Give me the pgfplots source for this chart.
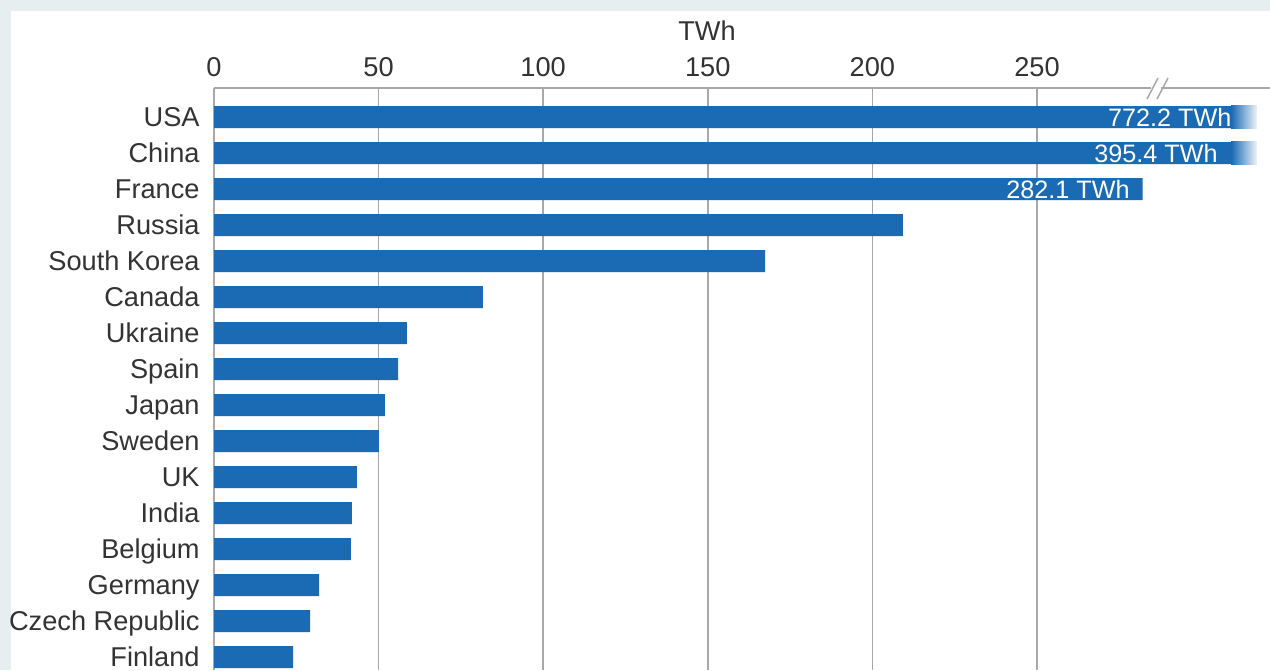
\documentclass[border=0pt]{standalone}
\usepackage{fontspec}
\setmainfont{Liberation Sans}
\usepackage{pgfplots}
\pgfplotsset{compat=1.18}
\definecolor{bg}{HTML}{E7EEF0}
\definecolor{barblue}{HTML}{1A6AB4}
\definecolor{gridgray}{HTML}{A8A8A8}
\definecolor{txt}{HTML}{333333}
\begin{document}
\begin{tikzpicture}
\begin{scope}[x=0.5pt,y=0.5pt]
\fill[bg] (0,0) rectangle (1270,670);
\fill[white] (11,0) rectangle (1280,659);
\end{scope}
\begin{axis}[
  at={(107pt,0pt)}, anchor=south west, scale only axis,
  width=528pt, height=291pt,
  xmin=0, xmax=320.8, ymin=-0.361, ymax=15.806,
  axis x line*=top, axis y line*=left,
  axis line style={draw=gridgray, line width=0.75pt, -},
  xmajorgrids, grid style={draw=gridgray, line width=0.75pt},
  major tick length=0pt,
  xtick={0,50,100,150,200,250},
  ytick={0,...,15},
  yticklabels={Finland, Czech Republic, Germany, Belgium, India, UK, Sweden, Japan, Spain, Ukraine, Canada, South Korea, Russia, France, China, USA},
  /pgf/number format/assume math mode=true,
  tick label style={text=txt, font=\fontsize{13.6}{16}\selectfont},
  xticklabel style={anchor=south, inner sep=0pt, yshift=5.5pt},
  yticklabel style={anchor=base east, inner sep=0pt, xshift=-7pt, yshift=-4.8pt},
]
\addplot[xbar, fill=barblue, draw=none, bar width=0.611] coordinates {
(772.2,15) (395.4,14) (282.1,13) (209.3,12) (167.4,11) (81.7,10) (58.6,9) (55.9,8)
(51.9,7) (50.1,6) (43.4,5) (41.9,4) (41.6,3) (31.9,2) (29.2,1) (24.0,0)};
\shade[left color=barblue, right color=white] (axis cs:309,14.68) rectangle (axis cs:317.5,15.32);
\shade[left color=barblue, right color=white] (axis cs:309,13.68) rectangle (axis cs:317.5,14.32);
\node[anchor=base east, text=white, inner sep=0pt, yshift=-4.5pt, font=\fontsize{12.6}{15}\selectfont] at (axis cs:309.2,15) {772.2 TWh};
\node[anchor=base east, text=white, inner sep=0pt, yshift=-4.5pt, font=\fontsize{12.6}{15}\selectfont] at (axis cs:305.0,14) {395.4 TWh};
\node[anchor=base east, text=white, inner sep=0pt, yshift=-4.5pt, font=\fontsize{12.6}{15}\selectfont] at (axis cs:278.3,13) {282.1 TWh};
\end{axis}
\begin{scope}[x=0.5pt,y=0.5pt]
\fill[white] (1257,540) rectangle (1290,566);
\fill[white] (1257,504) rectangle (1290,530);
\fill[white] (1151,578) rectangle (1161,586);
\draw[gridgray, line width=0.75pt] (1147,571) -- (1158,592);
\draw[gridgray, line width=0.75pt] (1157,571) -- (1168,592);
\node[text=txt, font=\fontsize{13.6}{16}\selectfont] at (707,639) {TWh};
\pgfresetboundingbox
\useasboundingbox (0,0) rectangle (1270,670);
\end{scope}
\end{tikzpicture}
\end{document}
